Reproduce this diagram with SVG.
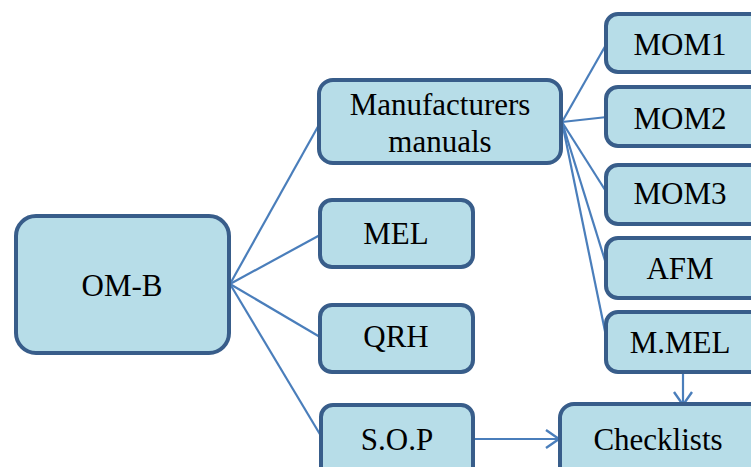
<svg xmlns="http://www.w3.org/2000/svg" width="751" height="467" viewBox="0 0 751 467">
<defs>
<style>
.box{fill:#b7dde8;stroke:#385d8a;stroke-width:4}
.t{font-family:'Liberation Serif','DejaVu Serif',serif;font-size:31px;fill:#000;text-anchor:middle}
.c{stroke:#4a7ebb;stroke-width:2.2;fill:none}
</style>
<marker id="ah" markerWidth="20" markerHeight="22" refX="14" refY="10" orient="auto" markerUnits="userSpaceOnUse">
<path d="M1,1 L14,10 L1,19" fill="none" stroke="#4a7ebb" stroke-width="2.4"/>
</marker>
</defs>
<rect width="751" height="467" fill="#fff"/>
<g id="connectors">
<line class="c" x1="230" y1="284" x2="320" y2="123"/>
<line class="c" x1="230" y1="284" x2="320" y2="235"/>
<line class="c" x1="230" y1="284" x2="320" y2="337"/>
<line class="c" x1="230" y1="284" x2="321" y2="436"/>
<line class="c" x1="562" y1="122" x2="607" y2="43"/>
<line class="c" x1="562" y1="122" x2="607" y2="117"/>
<line class="c" x1="562" y1="122" x2="607" y2="193"/>
<line class="c" x1="562" y1="122" x2="607" y2="267"/>
<line class="c" x1="562" y1="122" x2="607" y2="341"/>
<line class="c" x1="683" y1="373" x2="683" y2="405" marker-end="url(#ah)"/>
<line class="c" x1="475" y1="439" x2="559" y2="439" marker-end="url(#ah)"/>
</g>
<g id="omb"><rect class="box" x="16" y="216" width="213" height="137" rx="20"/><text class="t" x="122" y="296">OM-B</text></g>
<g id="manufacturers"><rect class="box" x="319" y="80" width="242" height="83" rx="14"/><text class="t" x="440" y="115">Manufacturers</text><text class="t" x="440" y="152">manuals</text></g>
<g id="mel"><rect class="box" x="320" y="200" width="153" height="67" rx="12"/><text class="t" x="396" y="244">MEL</text></g>
<g id="qrh"><rect class="box" x="320" y="305" width="153" height="67" rx="12"/><text class="t" x="396" y="347">QRH</text></g>
<g id="sop"><rect class="box" x="321" y="405" width="152" height="80" rx="12"/><text class="t" x="397" y="450">S.O.P</text></g>
<g id="mom1"><rect class="box" x="606" y="14" width="170" height="58" rx="12"/><text class="t" x="680" y="55">MOM1</text></g>
<g id="mom2"><rect class="box" x="606" y="87" width="170" height="59" rx="12"/><text class="t" x="680" y="129">MOM2</text></g>
<g id="mom3"><rect class="box" x="606" y="165" width="170" height="59" rx="12"/><text class="t" x="680" y="204">MOM3</text></g>
<g id="afm"><rect class="box" x="606" y="238" width="170" height="60" rx="12"/><text class="t" x="680" y="279">AFM</text></g>
<g id="mmel"><rect class="box" x="606" y="312" width="170" height="60" rx="12"/><text class="t" x="680" y="353">M.MEL</text></g>
<g id="checklists"><rect class="box" x="560" y="404" width="220" height="80" rx="14"/><text class="t" x="658" y="450">Checklists</text></g>
</svg>
